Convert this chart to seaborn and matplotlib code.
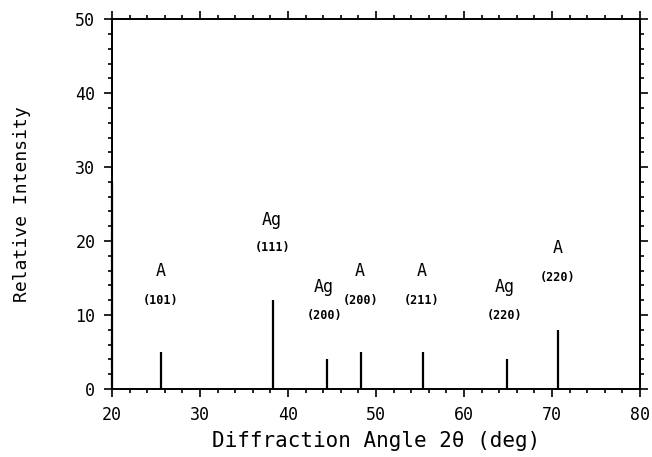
import pandas as pd
import matplotlib
matplotlib.use("Agg")
import matplotlib.pyplot as plt
import seaborn as sns
from matplotlib.ticker import MultipleLocator

# peak positions (2theta) and relative intensities
angles = [20.0, 25.6, 38.3, 44.4, 48.3, 55.3, 64.9, 70.7]
heights = [28, 5, 12, 4, 5, 5, 4, 8]

# phase labels and miller indices
label_x = [25.5, 38.2, 44.1, 48.2, 55.2, 64.6, 70.6]
phases = ["A", "Ag", "Ag", "A", "A", "Ag", "A"]
phase_y = [15.9, 22.8, 13.8, 15.9, 15.9, 13.8, 19.1]
hkl = ["(101)", "(111)", "(200)", "(200)", "(211)", "(220)", "(220)"]
hkl_y = [12.0, 19.1, 10.0, 12.0, 12.0, 10.0, 15.1]

df = pd.DataFrame({"angle": angles, "intensity": heights})

sns.set_theme(style="ticks")
plt.rcParams["font.family"] = ["DejaVu Sans Mono", "DejaVu Sans"]

fig = plt.figure(figsize=(6.52, 4.57), dpi=100)
ax = fig.add_axes([0.1718, 0.1488, 0.8098, 0.8092])

ax.vlines(df["angle"], 0, df["intensity"], colors="black", linewidth=1.6, clip_on=False)

for x, y, t in zip(label_x, phase_y, phases):
    ax.text(x, y, t, ha="center", va="center", fontsize=12, color="black")
for x, y, t in zip(label_x, hkl_y, hkl):
    ax.text(x, y, t, ha="center", va="center", fontsize=8.5, fontweight="bold", color="black")

ax.set_xlim(20, 80)
ax.set_ylim(0, 50)
ax.xaxis.set_major_locator(MultipleLocator(10))
ax.xaxis.set_minor_locator(MultipleLocator(2))
ax.yaxis.set_major_locator(MultipleLocator(10))
ax.yaxis.set_minor_locator(MultipleLocator(2))
ax.tick_params(which="both", direction="out", top=True, right=True, color="black", width=1.2)
ax.tick_params(which="major", length=6, labelsize=12, labelcolor="black", pad=6)
ax.tick_params(which="minor", length=3)
for s in ax.spines.values():
    s.set_color("black")
    s.set_linewidth(1.4)

ax.set_xlabel("Diffraction Angle 2θ (deg)", fontsize=15, labelpad=5, color="black")
ax.set_ylabel("Relative Intensity", fontsize=13, labelpad=32, color="black")

fig.savefig("out.png", dpi=100, facecolor="white")
